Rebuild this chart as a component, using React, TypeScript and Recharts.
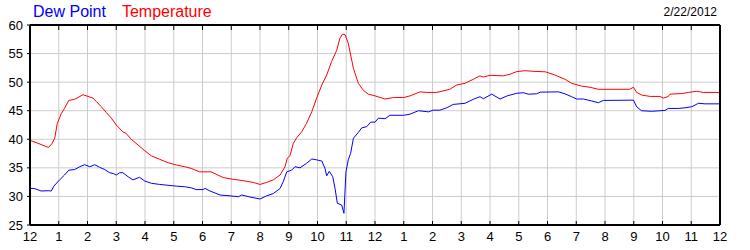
import { CartesianGrid, Line, LineChart, XAxis, YAxis } from "recharts";

const hourTicks = [0, 1, 2, 3, 4, 5, 6, 7, 8, 9, 10, 11, 12, 13, 14, 15, 16, 17, 18, 19, 20, 21, 22, 23, 24];
const hourLabels = ["12", "1", "2", "3", "4", "5", "6", "7", "8", "9", "10", "11", "12", "1", "2", "3", "4", "5", "6", "7", "8", "9", "10", "11", "12"];
const valueTicks = [25, 30, 35, 40, 45, 50, 55, 60];

const tempHours = [
  0, 0.28, 0.57, 0.65, 0.77, 0.86, 0.95, 1.09, 1.2, 1.35, 1.55, 1.67, 1.84, 2.02, 2.19, 2.31, 2.48, 2.65, 2.83, 3.0,
  3.23, 3.35, 3.52, 3.76, 3.99, 4.22, 4.51, 4.8, 5.09, 5.38, 5.61, 5.9, 6.3, 6.72, 7.07, 7.42, 7.77, 8.0, 8.23, 8.46,
  8.7, 8.87, 8.95, 9.04, 9.16, 9.28, 9.45, 9.62, 9.8, 9.97, 10.15, 10.32, 10.49, 10.67, 10.78, 10.87, 10.96, 11.07, 11.25, 11.42,
  11.59, 11.77, 12.0, 12.35, 12.64, 13.0, 13.22, 13.57, 13.8, 14.15, 14.6, 14.84, 15.13, 15.42, 15.65, 15.77, 16.0, 16.46, 16.7, 16.93,
  17.22, 17.5, 17.93, 18.26, 18.61, 18.84, 19.19, 19.48, 19.77, 20.85, 20.99, 21.1, 21.27, 21.57, 21.91, 22.03, 22.2, 22.26, 22.67, 22.9,
  23.19, 23.42, 24,
];
const tempValues = [
  39.8, 39.3, 38.7, 38.6, 39.3, 40.2, 42.8, 44.5, 45.4, 46.8, 47.0, 47.3, 47.8, 47.5, 47.2, 46.6, 45.7, 44.7, 43.7, 42.5,
  41.3, 41.0, 40.0, 39.0, 38.0, 37.1, 36.5, 35.9, 35.5, 35.2, 34.9, 34.3, 34.3, 33.3, 33.0, 32.75, 32.45, 32.1, 32.45, 32.9,
  33.75, 35.2, 36.7, 37.1, 39.3, 40.3, 41.3, 42.8, 44.8, 47.2, 49.5, 51.25, 53.6, 55.6, 57.7, 58.4, 58.3, 56.8, 52.4, 49.8,
  48.6, 47.9, 47.6, 47.05, 47.3, 47.3, 47.6, 48.3, 48.2, 48.2, 48.75, 49.5, 49.8, 50.5, 51.1, 50.9, 51.2, 51.1, 51.4, 51.85,
  52.0, 51.9, 51.8, 51.25, 50.5, 49.8, 49.3, 49.1, 48.75, 48.75, 49.1, 48.2, 47.75, 47.5, 47.5, 47.2, 47.5, 47.9, 48.0, 48.2,
  48.4, 48.2, 48.2,
];

const dewHours = [
  0, 0.14, 0.39, 0.63, 0.74, 0.83, 1.03, 1.2, 1.35, 1.55, 1.73, 1.9, 2.08, 2.25, 2.42, 2.6, 2.77, 2.9, 3.0, 3.12,
  3.23, 3.41, 3.58, 3.81, 3.99, 4.22, 4.51, 4.8, 5.09, 5.38, 5.61, 5.78, 6.02, 6.09, 6.26, 6.61, 6.96, 7.25, 7.36, 7.65,
  8.0, 8.23, 8.46, 8.7, 8.81, 8.93, 9.1, 9.22, 9.39, 9.62, 9.8, 9.97, 10.15, 10.26, 10.32, 10.41, 10.53, 10.61, 10.69, 10.84,
  10.92, 10.99, 11.07, 11.15, 11.25, 11.42, 11.54, 11.71, 11.85, 12.0, 12.12, 12.35, 12.52, 13.0, 13.22, 13.51, 13.86, 14.02, 14.26, 14.49,
  14.72, 15.13, 15.42, 15.65, 15.77, 16.06, 16.35, 16.6, 16.93, 17.16, 17.33, 17.62, 17.75, 18.38, 18.61, 18.84, 19.01, 19.25, 19.54, 19.77,
  19.94, 20.99, 21.1, 21.27, 21.62, 22.09, 22.2, 22.55, 22.78, 23.02, 23.25, 23.48, 24,
];
const dewValues = [
  31.4, 31.4, 30.95, 31.0, 30.95, 31.8, 32.9, 33.75, 34.6, 34.7, 35.2, 35.55, 35.2, 35.55, 35.1, 34.7, 34.15, 34.0, 33.75, 34.15,
  34.15, 33.45, 32.9, 33.35, 32.7, 32.3, 32.1, 31.95, 31.8, 31.7, 31.5, 31.2, 31.2, 31.4, 30.95, 30.25, 30.1, 29.95, 30.25, 29.9,
  29.55, 30.1, 30.5, 31.4, 32.6, 34.3, 34.6, 35.2, 35.0, 35.8, 36.55, 36.4, 36.2, 34.9, 33.6, 34.4, 33.45, 31.4, 28.8, 28.5,
  27.05, 34.3, 36.4, 37.5, 40.2, 41.2, 42.0, 42.2, 43.0, 43.0, 43.7, 43.6, 44.2, 44.2, 44.4, 45.0, 44.8, 45.1, 45.1, 45.5,
  46.1, 46.3, 47.0, 47.45, 47.1, 47.9, 47.05, 47.6, 48.05, 48.15, 47.9, 47.95, 48.25, 48.3, 47.95, 47.45, 47.05, 47.05, 46.7, 46.4,
  46.8, 46.85, 45.7, 45.0, 44.9, 45.05, 45.4, 45.4, 45.5, 45.7, 46.3, 46.2, 46.2,
];

const tempData = tempHours.map((hour, i) => ({ hour, value: tempValues[i] }));
const dewData = dewHours.map((hour, i) => ({ hour, value: dewValues[i] }));

const FONT = '"Liberation Sans", Arial, sans-serif';

function BottomTick({ x, y, payload }: any) {
  return (
    <g>
      <line x1={x} x2={x} y1={y} y2={y - 4} stroke="#000" strokeWidth={1} />
      <text x={x} y={y + 16} textAnchor="middle" fontSize={13} fontFamily={FONT} fill="#000">
        {hourLabels[payload.value]}
      </text>
    </g>
  );
}

function TopTick({ x, y }: any) {
  return <line x1={x} x2={x} y1={y} y2={y + 5} stroke="#000" strokeWidth={1} />;
}

export default function App() {
  return (
    <div style={{ position: "absolute", left: 0, top: 0, width: 750, height: 250, background: "#fff", fontFamily: FONT }}>
      <div style={{ position: "absolute", left: 33, top: 2, fontSize: 16, lineHeight: "20px", whiteSpace: "nowrap" }}>
        <span style={{ color: "#0000ff" }}>Dew Point</span>
        <span style={{ color: "#ff0000", marginLeft: 16 }}>Temperature</span>
      </div>
      <div style={{ position: "absolute", right: 33, top: 4, fontSize: 12, lineHeight: "16px", color: "#000" }}>2/22/2012</div>
      <LineChart width={750} height={250} data={tempData} margin={{ top: 20, right: 0, bottom: 0, left: 0 }}>
        <CartesianGrid xAxisId="b" yAxisId="left" stroke="#cccccc" strokeWidth={1} />
        <XAxis
          xAxisId="b"
          dataKey="hour"
          type="number"
          domain={[0, 24]}
          ticks={hourTicks}
          interval={0}
          height={25}
          tickSize={0}
          tickMargin={0}
          tick={<BottomTick />}
          tickLine={false}
          axisLine={{ stroke: "#000", strokeWidth: 2 }}
          allowDataOverflow
        />
        <XAxis
          xAxisId="t"
          orientation="top"
          dataKey="hour"
          type="number"
          domain={[0, 24]}
          ticks={hourTicks}
          interval={0}
          height={5}
          tickSize={0}
          tickMargin={0}
          tick={<TopTick />}
          tickLine={false}
          axisLine={{ stroke: "#000", strokeWidth: 2 }}
        />
        <YAxis
          yAxisId="left"
          type="number"
          domain={[25, 60]}
          ticks={valueTicks}
          interval={0}
          width={30}
          tickSize={3}
          tickMargin={4}
          tick={{ fontSize: 13, fill: "#000", fontFamily: FONT }}
          tickLine={{ stroke: "#000" }}
          axisLine={{ stroke: "#000", strokeWidth: 2 }}
          allowDataOverflow
        />
        <YAxis
          yAxisId="right"
          orientation="right"
          type="number"
          domain={[25, 60]}
          ticks={valueTicks}
          interval={0}
          width={30}
          tickSize={3}
          tickMargin={4}
          tick={{ fontSize: 13, fill: "#000", fontFamily: FONT, textAnchor: "start" }}
          tickLine={{ stroke: "#000" }}
          axisLine={{ stroke: "#000", strokeWidth: 2 }}
        />
        <Line
          xAxisId="b"
          yAxisId="left"
          data={dewData}
          dataKey="value"
          type="linear"
          stroke="#0000ff"
          strokeWidth={1}
          dot={false}
          activeDot={false}
          isAnimationActive={false}
        />
        <Line
          xAxisId="b"
          yAxisId="left"
          data={tempData}
          dataKey="value"
          type="linear"
          stroke="#ff0000"
          strokeWidth={1}
          dot={false}
          activeDot={false}
          isAnimationActive={false}
        />
      </LineChart>
    </div>
  );
}
